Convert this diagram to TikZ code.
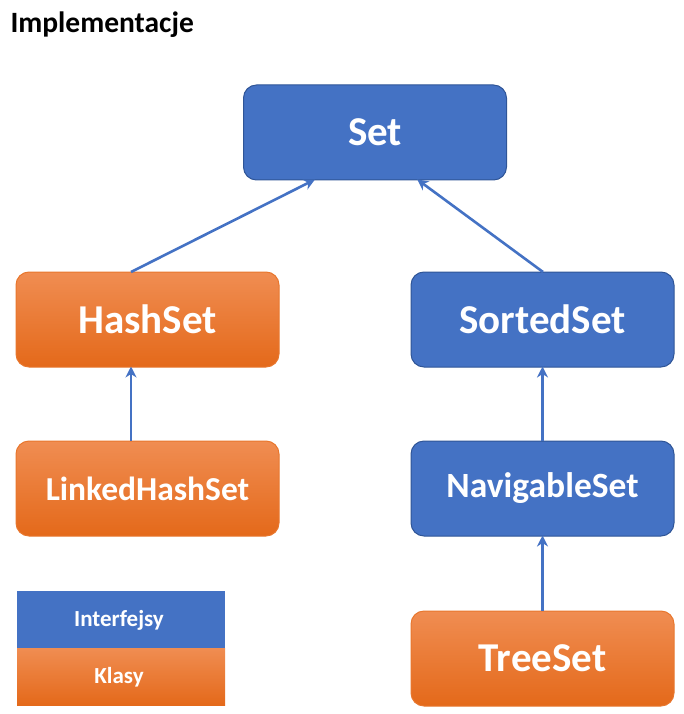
\documentclass[tikz,border=0pt]{standalone}
\usepackage{fontspec}
\setmainfont{Carlito}
\usetikzlibrary{arrows.meta}
\definecolor{ifblue}{HTML}{4472C4}
\definecolor{ifborder}{HTML}{2F5597}
\definecolor{orTop}{HTML}{F08D52}
\definecolor{orBot}{HTML}{E4691A}
\definecolor{orBorder}{HTML}{E8772E}
\begin{document}
\begin{tikzpicture}[x=1pt,y=-1pt,
  box/.style={rectangle, rounded corners=13pt, minimum width=263pt, minimum height=95pt,
    inner sep=0pt, text=white, font=\bfseries\fontsize{41}{47}\selectfont, line width=1pt},
  iface/.style={box, fill=ifblue, draw=ifborder},
  klass/.style={box, top color=orTop, bottom color=orBot, draw=orBorder},
  legendtext/.style={text=white, font=\bfseries\fontsize{23}{27}\selectfont},
  conn/.style={draw=ifblue, line width=2.6pt, -{Stealth[length=11pt,width=11pt]}, shorten >=-1pt}
]
\useasboundingbox (0,0) rectangle (684,714);
\node[anchor=base west, font=\bfseries\fontsize{29.5}{34}\selectfont] (title) at (7,33) {Implementacje};
\node[iface] (set) at (375,132.5) {Set};
\node[klass] (hash) at (147.5,319.5) {HashSet};
\node[iface] (sorted) at (542.5,319.5) {SortedSet};
\node[klass, font=\bfseries\fontsize{33.5}{39}\selectfont] (linked) at (147.5,488.5) {LinkedHashSet};
\node[iface, font=\bfseries\fontsize{35.5}{41}\selectfont] (nav) at (542.5,488.5) {NavigableSet};
\node[klass] (tree) at (542.5,658.5) {TreeSet};
% legend
\path[fill=ifblue] (17,591) rectangle (225,648);
\path[top color=orTop, bottom color=orBot] (17,648) rectangle (225,705);
\node[legendtext] (li) at (119,620) {Interfejsy};
\node[legendtext] (lk) at (119,677) {Klasy};
% connectors
\coordinate (h1) at (131,272);
\coordinate (s1) at (314,180);
\coordinate (so1) at (543,272);
\coordinate (s2) at (418,180);
\draw[conn] (h1) -- (s1);
\draw[conn] (so1) -- (s2);
\draw[conn] (linked.north -| 131,0) -- (hash.south -| 131,0);
\draw[conn] (nav.north) -- (sorted.south);
\draw[conn] (tree.north) -- (nav.south);
\end{tikzpicture}
\end{document}
